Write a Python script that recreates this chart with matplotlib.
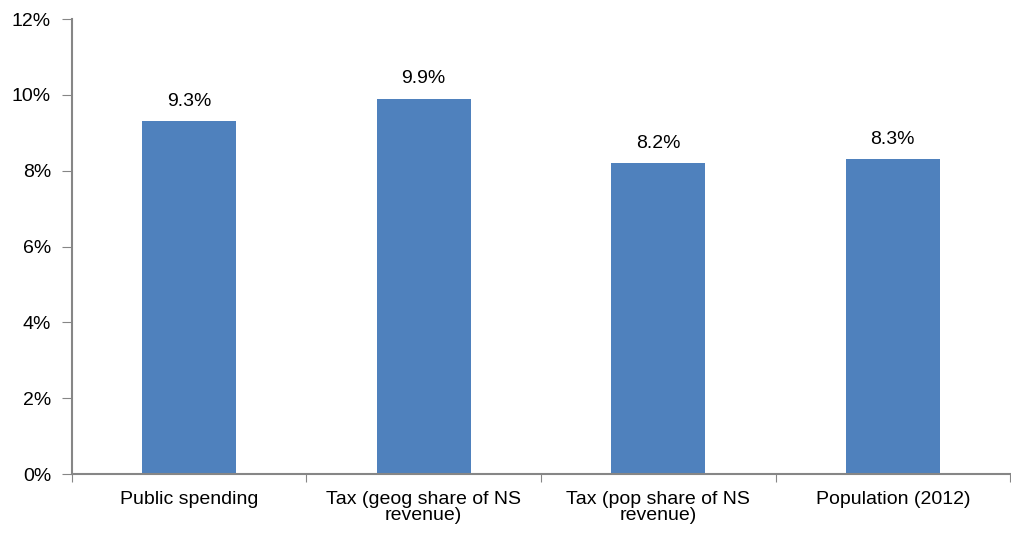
import matplotlib
matplotlib.use("Agg")
import matplotlib.pyplot as plt
import numpy as np

categories = ["Public spending", "Tax (geog share of NS\nrevenue)", "Tax (pop share of NS\nrevenue)", "Population (2012)"]
values = [9.3, 9.9, 8.2, 8.3]
labels = ["9.3%", "9.9%", "8.2%", "8.3%"]
yticks = [0, 2, 4, 6, 8, 10, 12]

plt.rcParams['font.family'] = ['Liberation Sans', 'DejaVu Sans']
fs = 14
fig = plt.figure(figsize=(10.12, 5.37), dpi=100)
ax = fig.add_axes([0.0711, 0.1173, 0.927, 0.8473])
x = np.arange(len(categories))
ax.bar(x, values, width=0.4, color="#4F81BD")
for xi, v, l in zip(x, values, labels):
    ax.text(xi, v + 0.3, l, ha="center", va="bottom", fontsize=fs)
ax.set_xlim(-0.5, len(categories) - 0.5)
ax.set_ylim(0, 12)
ax.set_yticks(yticks)
ax.set_yticklabels([f"{t}%" for t in yticks], fontsize=fs)
ax.set_xticks(np.arange(-0.5, len(categories) + 0.5, 1), minor=False)
ax.set_xticklabels([])
ax.set_xticks(x, minor=True)
ax.set_xticklabels(categories, minor=True, fontsize=fs, linespacing=0.95)
ax.tick_params(axis="x", which="minor", length=0, pad=12)
ax.tick_params(axis="x", which="major", length=6, color="#868686", direction="out")
ax.tick_params(axis="y", length=7, color="#868686", pad=8)
for s in ["top", "right"]:
    ax.spines[s].set_visible(False)
for s in ["left", "bottom"]:
    ax.spines[s].set_color("#868686")
    ax.spines[s].set_linewidth(1.5)
fig.savefig("out.png", dpi=100)
